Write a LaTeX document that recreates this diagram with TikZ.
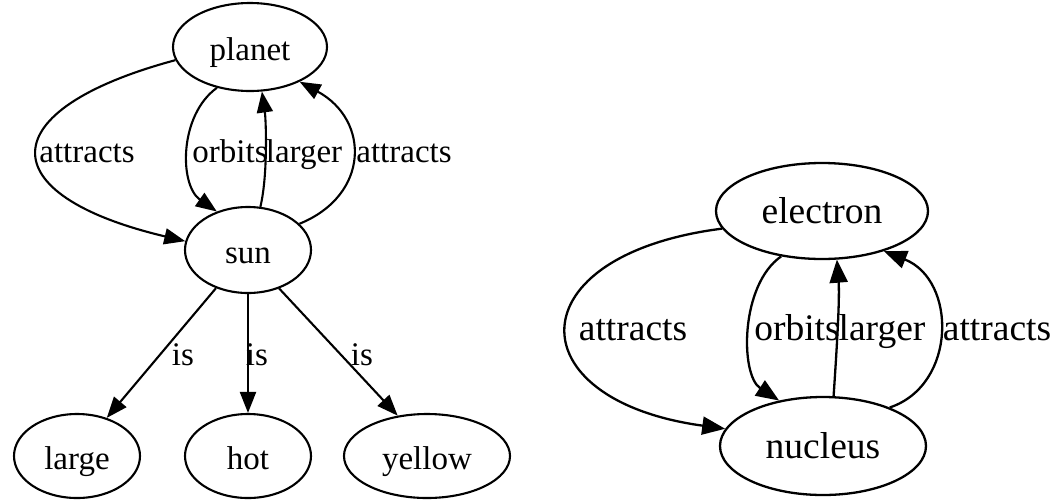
\documentclass[tikz,border=0pt]{standalone}
\usepackage{fontspec}
\setmainfont{Liberation Serif}
\usetikzlibrary{shapes.geometric,arrows.meta}

\tikzset{
  ent/.style={draw, ellipse, line width=2.1pt, inner sep=0pt,
    text height=28pt, text depth=2pt,
    font=\fontsize{33}{33}\selectfont},
  entbig/.style={ent, line width=2.3pt, text height=29pt, text depth=5pt,
    font=\fontsize{37.5}{37.5}\selectfont},
  rel/.style={inner sep=0pt, anchor=base, font=\fontsize{33}{33}\selectfont},
  relbig/.style={rel, font=\fontsize{37.5}{37.5}\selectfont},
  link/.style={line width=2.1pt, -{Triangle[length=21pt,width=16pt]}},
  linkbig/.style={line width=2.3pt, -{Triangle[length=23pt,width=18pt]}}
}

\begin{document}
\begin{tikzpicture}[x=1pt, y=-1pt]
\useasboundingbox (0,0) rectangle (1055,499);

% solar system graph
\node[ent, minimum width=154pt, minimum height=88pt] (planet) at (250,47) {planet};
\node[ent, minimum width=126pt, minimum height=86pt] (sun) at (248,250) {sun};
\node[ent, minimum width=126pt, minimum height=84pt] (large) at (77,456) {large};
\node[ent, minimum width=126pt, minimum height=84pt] (hot) at (248,456) {hot};
\node[ent, minimum width=166pt, minimum height=84pt] (yellow) at (427,456) {yellow};

\draw[link] (planet.190) .. controls (-10,110) and (-10,195) .. (sun.172);
\draw[link] (planet.231) .. controls (179,115) and (179,185) .. (sun.129);
\draw[link] (sun.74) .. controls (268,175) and (266,120) .. (planet.285);
\draw[link] (sun.27) .. controls (370,195) and (370,120) .. (planet.325);

\draw[link] (sun.230) -- (large.52);
\draw[link] (sun.270) -- (hot.90);
\draw[link] (sun.309) -- (yellow.126);

\node[rel] (l1) at (87,162) {attracts};
\node[rel] (l2) at (230,162) {orbits};
\node[rel] (l3) at (304,162) {larger};
\node[rel] (l4) at (404,162) {attracts};
\node[rel] (l5) at (183,365) {is};
\node[rel] (l6) at (257,365) {is};
\node[rel] (l7) at (362,365) {is};

% atom graph
\node[entbig, minimum width=212pt, minimum height=96pt] (electron) at (822,211) {electron};
\node[entbig, minimum width=206pt, minimum height=98pt] (nucleus) at (823,446) {nucleus};

\draw[linkbig] (electron.190) .. controls (515,255) and (515,400) .. (nucleus.170);
\draw[linkbig] (electron.228) .. controls (740,285) and (740,375) .. (nucleus.134);
\draw[linkbig] (nucleus.78) .. controls (836,360) and (840,300) .. (electron.287);
\draw[linkbig] (nucleus.30) .. controls (957,385) and (957,280) .. (electron.327);

\node[relbig] (r1) at (633,340) {attracts};
\node[relbig] (r2) at (797,340) {orbits};
\node[relbig] (r3) at (882,340) {larger};
\node[relbig] (r4) at (997,340) {attracts};
\end{tikzpicture}
\end{document}
